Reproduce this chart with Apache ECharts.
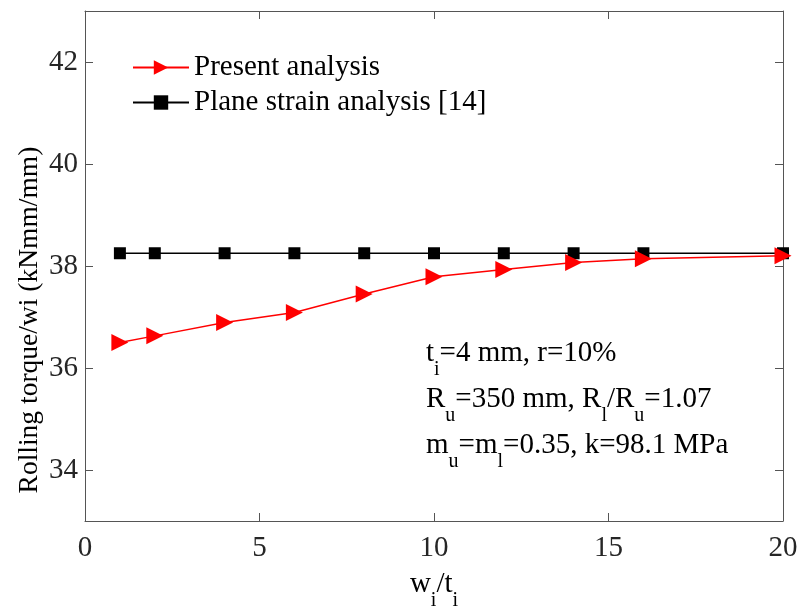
<!DOCTYPE html>
<html>
<head>
<meta charset="utf-8">
<script src="https://cdn.jsdelivr.net/npm/echarts@6/dist/echarts.min.js"></script>
<style>
  html, body { margin: 0; padding: 0; background: #fff; }
  #chart { width: 801px; height: 613px; }
</style>
</head>
<body>
<div id="chart"></div>
<script>
// w_i/t_i values
const ratios = [1, 2, 4, 6, 8, 10, 12, 14, 16, 20];
// rolling torque per width (kNmm/mm)
const present = [36.5, 36.63, 36.89, 37.09, 37.45, 37.79, 37.93, 38.07, 38.14, 38.2];
const planeStrain = [38.25, 38.25, 38.25, 38.25, 38.25, 38.25, 38.25, 38.25, 38.25, 38.25];
const yTicks = [34, 36, 38, 40, 42];
const xTicks = [0, 5, 10, 15, 20];

const font = '"Liberation Serif", "Times New Roman", serif';
const axisColor = '#555';

const chart = echarts.init(document.getElementById('chart'));

const sub = { fontSize: 20, fontFamily: font, color: '#000', padding: [34, 0, 0, 0] };
const main = { fontSize: 29, fontFamily: font, color: '#000' };

function baseAxis(extra) {
  return Object.assign({
    type: 'value',
    axisLine: { show: true, onZero: false, lineStyle: { color: axisColor, width: 1 } },
    axisTick: { show: true, inside: true, length: 8, lineStyle: { color: axisColor } },
    splitLine: { show: false }
  }, extra);
}

const option = {
  animation: false,
  grid: { left: 85, right: 18, top: 11, bottom: 92, outerBoundsMode: 'none' },
  legend: {
    orient: 'vertical',
    left: 127,
    top: 48,
    itemWidth: 56,
    itemHeight: 18,
    itemGap: 6,
    textStyle: { fontFamily: font, fontSize: 29, color: '#000' },
    data: ['Present analysis', 'Plane strain analysis [14]']
  },
  xAxis: [
    baseAxis({
      min: 0, max: 20,
      axisTick: { show: true, inside: true, length: 8, lineStyle: { color: axisColor }, customValues: xTicks },
      axisLabel: { customValues: xTicks, margin: 13, fontFamily: font, fontSize: 29, color: '#262626' },
      name: '{m|w}{s|i}{m|/t}{s|i}',
      nameLocation: 'middle',
      nameGap: 36,
      nameTextStyle: { rich: { m: main, s: sub } }
    }),
    baseAxis({
      position: 'top', min: 0, max: 20,
      axisTick: { show: true, inside: true, length: 8, lineStyle: { color: axisColor }, customValues: xTicks },
      axisLabel: { show: false }
    })
  ],
  yAxis: [
    baseAxis({
      min: 33, max: 43,
      axisTick: { show: true, inside: true, length: 8, lineStyle: { color: axisColor }, customValues: yTicks },
      axisLabel: { customValues: yTicks, margin: 7, fontFamily: font, fontSize: 29, color: '#262626' }
    }),
    baseAxis({
      position: 'right', min: 33, max: 43,
      axisTick: { show: true, inside: true, length: 8, lineStyle: { color: axisColor }, customValues: yTicks },
      axisLabel: { show: false }
    })
  ],
  graphic: [
    {
      type: 'text',
      x: 30,
      y: 320,
      rotation: Math.PI / 2,
      style: {
        text: 'Rolling torque/wi (kNmm/mm)',
        fontFamily: font,
        fontSize: 27.5,
        fill: '#000',
        align: 'center',
        verticalAlign: 'middle'
      }
    },
    {
      type: 'text',
      left: 426,
      top: 326,
      style: {
        text: '{m|t}{s|i}{m|=4 mm, r=10%}\n{m|R}{s|u}{m|=350 mm, R}{s|l}{m|/R}{s|u}{m|=1.07}\n{m|m}{s|u}{m|=m}{s|l}{m|=0.35, k=98.1 MPa}',
        rich: { m: Object.assign({ lineHeight: 46 }, main), s: Object.assign({ lineHeight: 46 }, sub) }
      }
    }
  ],
  series: [
    {
      name: 'Plane strain analysis [14]',
      type: 'line',
      data: ratios.map((x, i) => [x, planeStrain[i]]),
      symbol: 'rect',
      symbolSize: 12,
      clip: false,
      lineStyle: { color: '#000', width: 1.5 },
      itemStyle: { color: '#000' }
    },
    {
      name: 'Present analysis',
      type: 'line',
      data: ratios.map((x, i) => [x, present[i]]),
      symbol: 'triangle',
      symbolRotate: -90,
      symbolSize: 17,
      clip: false,
      z: 3,
      lineStyle: { color: '#ff0000', width: 1.5 },
      itemStyle: { color: '#ff0000' }
    }
  ]
};

chart.setOption(option);
</script>
</body>
</html>
